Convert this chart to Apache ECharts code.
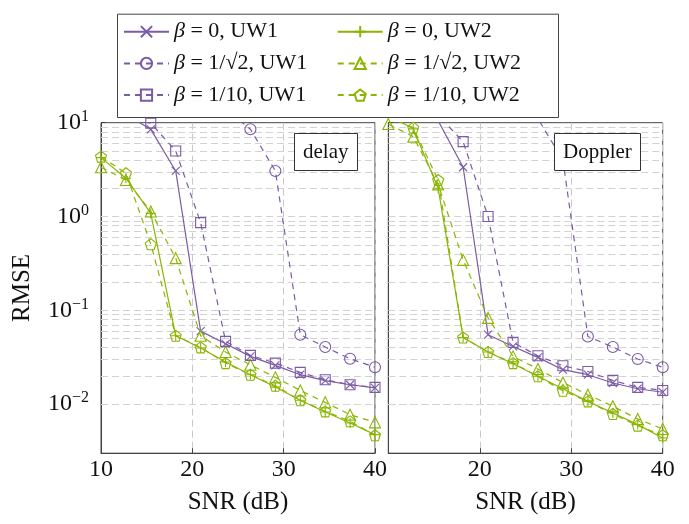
<!DOCTYPE html>
<html>
<head>
<meta charset="utf-8">
<script src="https://cdn.jsdelivr.net/npm/echarts@6/dist/echarts.min.js"></script>
<style>
  html, body { margin: 0; padding: 0; background: #fff; }
  #chart { width: 689px; height: 524px; }
</style>
</head>
<body>
<div id="chart"></div>
<script>
// SNR grid (dB), shared by every curve
const snr = [10, 12.73, 15.45, 18.18, 20.91, 23.64, 26.36, 29.09, 31.82, 34.55, 37.27, 40];

// RMSE of the delay estimate
const delayB0UW1   = [14, 12.2, 8.5, 3.06, 0.060, 0.044, 0.0323, 0.0259, 0.0206, 0.0178, 0.0161, 0.0149];
const delayBsUW1   = [16, 16, 15.5, 15, 14.5, 14, 8.5, 3.06, 0.055, 0.0406, 0.0305, 0.0247];
const delayB10UW1  = [12, 11, 9.9, 5.0, 0.86, 0.0467, 0.0331, 0.0274, 0.0218, 0.0182, 0.0161, 0.0151];
const delayB0UW2   = [4.24, 2.56, 1.08, 0.0536, 0.0396, 0.0281, 0.0206, 0.0152, 0.011, 0.00826, 0.0063, 0.00473];
const delayBsUW2   = [3.35, 2.45, 1.13, 0.36, 0.0536, 0.036, 0.0263, 0.0193, 0.014, 0.01045, 0.00773, 0.0064];
const delayB10UW2  = [4.35, 2.89, 0.507, 0.0536, 0.0403, 0.0274, 0.0206, 0.0157, 0.011, 0.00838, 0.00656, 0.00466];

// RMSE of the Doppler estimate
const dopB0UW1  = [13, 12, 10.5, 3.35, 0.055, 0.0412, 0.0315, 0.0233, 0.0206, 0.0168, 0.0146, 0.0134];
const dopBsUW1  = [16, 16, 15, 14.5, 14, 13, 11, 4.0, 0.0527, 0.0406, 0.0303, 0.0247];
const dopB10UW1 = [14, 13, 12, 6.28, 1.0, 0.0455, 0.0328, 0.0257, 0.0223, 0.0179, 0.0151, 0.014];
const dopB0UW2  = [12, 8.6, 2.0, 0.0514, 0.036, 0.027, 0.0198, 0.0146, 0.0107, 0.00806, 0.00605, 0.00436];
const dopBsUW2  = [9.7, 7.1, 2.2, 0.345, 0.083, 0.0323, 0.0237, 0.017, 0.0126, 0.0095, 0.00695, 0.00544];
const dopB10UW2 = [11.5, 8.85, 2.45, 0.0514, 0.036, 0.0274, 0.0198, 0.0139, 0.0107, 0.00785, 0.0059, 0.00466];

// axis ranges and tick values
const xTicks = [10, 20, 30, 40];
const yRange = [0.003, 10];
// horizontal grid lines of the log axis (decades and their multiples)
const yGridLines = [
  0.004, 0.005, 0.006, 0.007, 0.008, 0.009,
  0.01, 0.02, 0.03, 0.04, 0.05, 0.06, 0.07, 0.08, 0.09,
  0.1, 0.2, 0.3, 0.4, 0.5, 0.6, 0.7, 0.8, 0.9,
  1, 2, 3, 4, 5, 6, 7, 8, 9
];

// legend entries
const names = ['b0uw1', 'b0uw2', 'bsuw1', 'bsuw2', 'b10uw1', 'b10uw2'];
const legendText = {
  b0uw1:  '{i|β} = 0, UW1',
  b0uw2:  '{i|β} = 0, UW2',
  bsuw1:  '{i|β} = 1/√2, UW1',
  bsuw2:  '{i|β} = 1/√2, UW2',
  b10uw1: '{i|β} = 1/10, UW1',
  b10uw2: '{i|β} = 1/10, UW2'
};

const PURPLE = '#7b5aa6';
const GREEN = '#8ab500';
const SERIF = "'Liberation Serif', 'DejaVu Serif', serif";
const DASH = [6, 5];

const SYM = {
  cross: 'path://M0,0L10,10M10,0L0,10',
  plus: 'path://M5,0L5,10M0,5L10,5',
  pentagon: 'path://M5,0L9.76,3.45L7.94,9.05L2.06,9.05L0.24,3.45Z'
};

const styles = {
  b0uw1:  { color: PURPLE, dash: 'solid', symbol: SYM.cross,   size: 8 },
  bsuw1:  { color: PURPLE, dash: DASH,    symbol: 'circle',    size: 11 },
  b10uw1: { color: PURPLE, dash: DASH,    symbol: 'rect',      size: 10 },
  b0uw2:  { color: GREEN,  dash: 'solid', symbol: SYM.plus,    size: 10 },
  bsuw2:  { color: GREEN,  dash: DASH,    symbol: 'triangle',  size: 11 },
  b10uw2: { color: GREEN,  dash: DASH,    symbol: SYM.pentagon, size: 11 }
};

const panels = [
  { b0uw1: delayB0UW1, b0uw2: delayB0UW2, bsuw1: delayBsUW1, bsuw2: delayBsUW2, b10uw1: delayB10UW1, b10uw2: delayB10UW2 },
  { b0uw1: dopB0UW1, b0uw2: dopB0UW2, bsuw1: dopBsUW1, bsuw2: dopBsUW2, b10uw1: dopB10UW1, b10uw2: dopB10UW2 }
];

function logLabel(v) {
  const e = Math.log10(v);
  const r = Math.round(e);
  if (Math.abs(e - r) > 1e-6) return '';
  return '{b|10}{e|' + (r < 0 ? '\u2212' + (-r) : String(r)) + '}';
}

const series = [];
panels.forEach(function (panel, gi) {
  // grid lines drawn on the log scale
  series.push({
    type: 'line',
    xAxisIndex: gi,
    yAxisIndex: gi,
    data: [[snr[0], yRange[1]]],
    showSymbol: false,
    lineStyle: { opacity: 0 },
    silent: true,
    z: 1,
    markLine: {
      silent: true,
      z: 1,
      animation: false,
      symbol: ['none', 'none'],
      label: { show: false },
      lineStyle: { type: [7, 4], color: '#d2d2d2', width: 1 },
      emphasis: { disabled: true },
      data: yGridLines.map(function (v) { return { yAxis: v }; })
    }
  });
  names.forEach(function (n) {
    const st = styles[n];
    series.push({
      name: n,
      type: 'line',
      xAxisIndex: gi,
      yAxisIndex: gi,
      data: snr.map(function (x, i) { return [x, panel[n][i]]; }),
      symbol: st.symbol,
      symbolSize: st.size,
      showAllSymbol: true,
      clip: true,
      z: 3,
      lineStyle: { color: st.color, width: 1.2, type: st.dash },
      itemStyle: { color: 'transparent', borderColor: st.color, borderWidth: 1.1 },
      emphasis: { disabled: true },
      animation: false
    });
  });
});

function makeLegend(list, left) {
  return {
    data: list,
    orient: 'vertical',
    left: left,
    top: 19.7,
    padding: 0,
    itemWidth: 45,
    itemHeight: 14,
    itemGap: 7.7,
    selectedMode: false,
    formatter: function (n) { return legendText[n]; },
    textStyle: {
      fontFamily: SERIF, fontSize: 22, lineHeight: 24, color: '#111',
      rich: { i: { fontFamily: SERIF, fontSize: 22, fontStyle: 'italic', color: '#111' } }
    }
  };
}

const axisText = { fontFamily: SERIF, fontSize: 24, color: '#111' };

const option = {
  backgroundColor: '#fff',
  animation: false,
  title: [
    { text: 'delay', left: 294, top: 133, padding: [8, 9, 8, 9], borderWidth: 1, borderColor: '#333',
      backgroundColor: '#fff', textStyle: { fontFamily: SERIF, fontSize: 21, fontWeight: 'normal', color: '#111', lineHeight: 22 } },
    { text: 'Doppler', left: 554, top: 133, padding: [8, 9, 8, 9], borderWidth: 1, borderColor: '#333',
      backgroundColor: '#fff', textStyle: { fontFamily: SERIF, fontSize: 21, fontWeight: 'normal', color: '#111', lineHeight: 22 } }
  ],
  legend: [
    makeLegend(['b0uw1', 'bsuw1', 'b10uw1'], 123),
    makeLegend(['b0uw2', 'bsuw2', 'b10uw2'], 336.7)
  ],
  graphic: [{
    type: 'rect',
    left: 115, top: 11.7,
    shape: { width: 441, height: 103.3 },
    style: { fill: 'none', stroke: '#444', lineWidth: 1 },
    z: 10, silent: true
  }],
  grid: [
    { left: 101, top: 122.7, width: 274, height: 330.5, show: true, borderColor: '#444', borderWidth: 1, backgroundColor: 'transparent' },
    { left: 388.3, top: 122.7, width: 274.4, height: 330.5, show: true, borderColor: '#444', borderWidth: 1, backgroundColor: 'transparent' }
  ],
  xAxis: [0, 1].map(function (gi) {
    return {
      type: 'value',
      gridIndex: gi,
      min: xTicks[0],
      max: xTicks[xTicks.length - 1],
      interval: 10,
      name: 'SNR (dB)',
      nameLocation: 'middle',
      nameGap: 37,
      nameTextStyle: { fontFamily: SERIF, fontSize: 25, color: '#111' },
      axisLine: { lineStyle: { color: '#444' } },
      axisTick: { inside: true, length: 5, lineStyle: { color: '#444' } },
      axisLabel: Object.assign({
        margin: 5,
        formatter: function (v) { return (gi === 1 && v === xTicks[0]) ? '' : String(v); }
      }, axisText),
      splitLine: { show: true, lineStyle: { type: [7, 4], color: '#c8c8c8' } }
    };
  }),
  yAxis: [0, 1].map(function (gi) {
    return {
      type: 'log',
      logBase: 10,
      gridIndex: gi,
      min: yRange[0],
      max: yRange[1],
      name: gi === 0 ? 'RMSE' : '',
      nameLocation: 'middle',
      nameGap: 66,
      nameTextStyle: { fontFamily: SERIF, fontSize: 25, color: '#111' },
      axisLine: { lineStyle: { color: '#444' } },
      axisTick: { inside: true, length: 5, lineStyle: { color: '#444' } },
      axisLabel: {
        show: gi === 0,
        margin: 12,
        formatter: logLabel,
        rich: {
          b: { fontFamily: SERIF, fontSize: 24, color: '#111', lineHeight: 28 },
          e: { fontFamily: SERIF, fontSize: 16, color: '#111', verticalAlign: 'top', lineHeight: 16 }
        }
      },
      splitLine: { show: false }
    };
  }),
  series: series
};

const chart = echarts.init(document.getElementById('chart'), null, { renderer: 'canvas' });
chart.setOption(option);
</script>
</body>
</html>
